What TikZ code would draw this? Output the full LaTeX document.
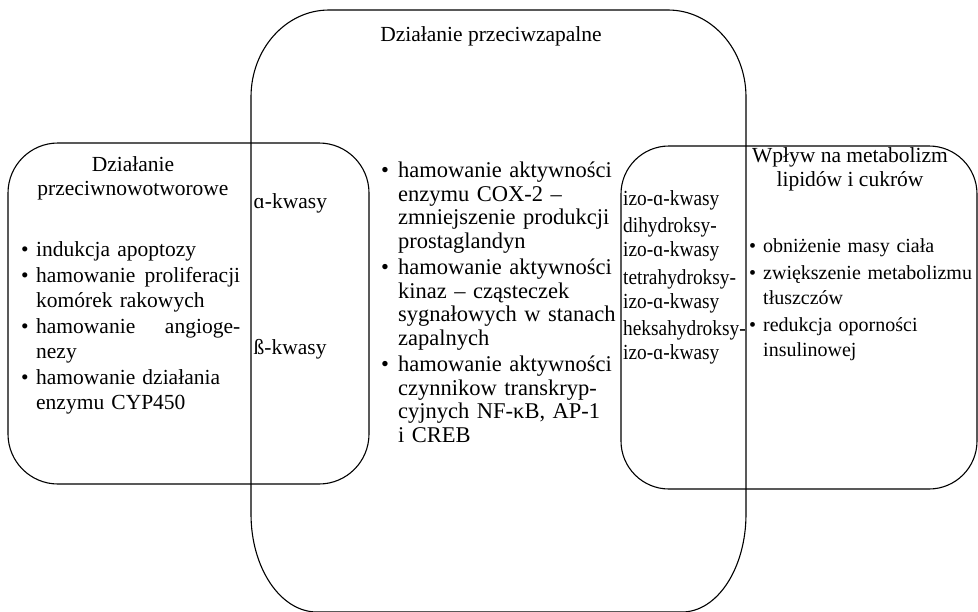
\documentclass[tikz,border=0pt]{standalone}
\usepackage{fontspec}
\setmainfont{Liberation Serif}
\newfontfamily\waski[FakeStretch=0.9]{Liberation Serif}

\newlength{\wciecie}
\newcommand{\pkt}[1]{\noindent\hangindent=\wciecie\hangafter=1\makebox[\wciecie][l]{\textbullet}#1\par}

\begin{document}
\begin{tikzpicture}[x=1pt,y=-1pt,
  ramka/.style={line width=1.1pt},
  napis/.style={inner sep=0pt, font=\fontsize{21.5pt}{24.5pt}\selectfont},
  lista/.style={napis, anchor=north west, text width=#1}]
  \useasboundingbox (0,0) rectangle (978,611);
  \clip (0,0) rectangle (978,611);

  \draw[ramka] (329,10) -- (668,10) arc[start angle=-90, end angle=0, x radius=78, y radius=87]
    -- (746,514) arc[start angle=0, end angle=90, x radius=64, y radius=98]
    -- (317,612) arc[start angle=90, end angle=180, x radius=66, y radius=98]
    -- (251,97) arc[start angle=180, end angle=270, x radius=78, y radius=87] -- cycle;
  \draw[ramka, rounded corners=50pt] (8,143) rectangle (369,484);
  \draw[ramka, rounded corners=48pt] (621,146) rectangle (977,489);

  \node[napis, anchor=base] (tytulZapal) at (491,41) {Działanie przeciwzapalne};
  \node[napis, anchor=north, align=center] (tytulNowotw) at (133,156) {Działanie\\przeciwnowotworowe};
  \node[napis, anchor=north, align=center] (tytulMetab) at (850,147) {Wpływ na metabolizm\\lipidów i cukrów};

  \node[napis, anchor=base west] (alfa) at (253.5,208) {ɑ-kwasy};
  \node[napis, anchor=base west] (beta) at (253.5,354) {ß-kwasy};

  \node[lista=219pt] (listaNowotw) at (21,241) {\setlength{\wciecie}{15pt}\setlength{\parskip}{2pt}%
    \pkt{indukcja apoptozy}
    \pkt{hamowanie\hfill proliferacji\newline komórek rakowych}
    \pkt{hamowanie\hfill angioge-\newline nezy}
    \pkt{hamowanie działania\newline enzymu CYP450}};

  \node[lista=260pt, font=\fontsize{22.5pt}{23.5pt}\selectfont] (listaZapal) at (381,162) {\setlength{\wciecie}{17pt}\setlength{\parskip}{3pt}%
    \pkt{hamowanie aktywności\newline enzymu COX-2 –\newline zmniejszenie produkcji\newline prostaglandyn}
    \pkt{hamowanie aktywności\newline kinaz – cząsteczek\newline sygnałowych w stanach\newline zapalnych}
    \pkt{hamowanie aktywności\newline czynnikow transkryp-\newline cyjnych NF-κB, AP-1\newline i CREB}};

  \node[napis, anchor=north west, align=left, font=\waski\fontsize{21.5pt}{24pt}\selectfont] (izo) at (623,190)
    {izo-ɑ-kwasy\\[3.5pt]dihydroksy-\\izo-ɑ-kwasy\\[3.5pt]tetrahydroksy-\\izo-ɑ-kwasy\\[3.5pt]heksahydroksy-\\izo-ɑ-kwasy};

  \node[lista=235pt, font=\fontsize{20pt}{24.5pt}\selectfont] (listaMetab) at (749,238) {\setlength{\wciecie}{14pt}\setlength{\parskip}{3pt}%
    \pkt{obniżenie masy ciała}
    \pkt{zwiększenie metabolizmu\newline tłuszczów}
    \pkt{redukcja oporności\newline insulinowej}};
\end{tikzpicture}
\end{document}
